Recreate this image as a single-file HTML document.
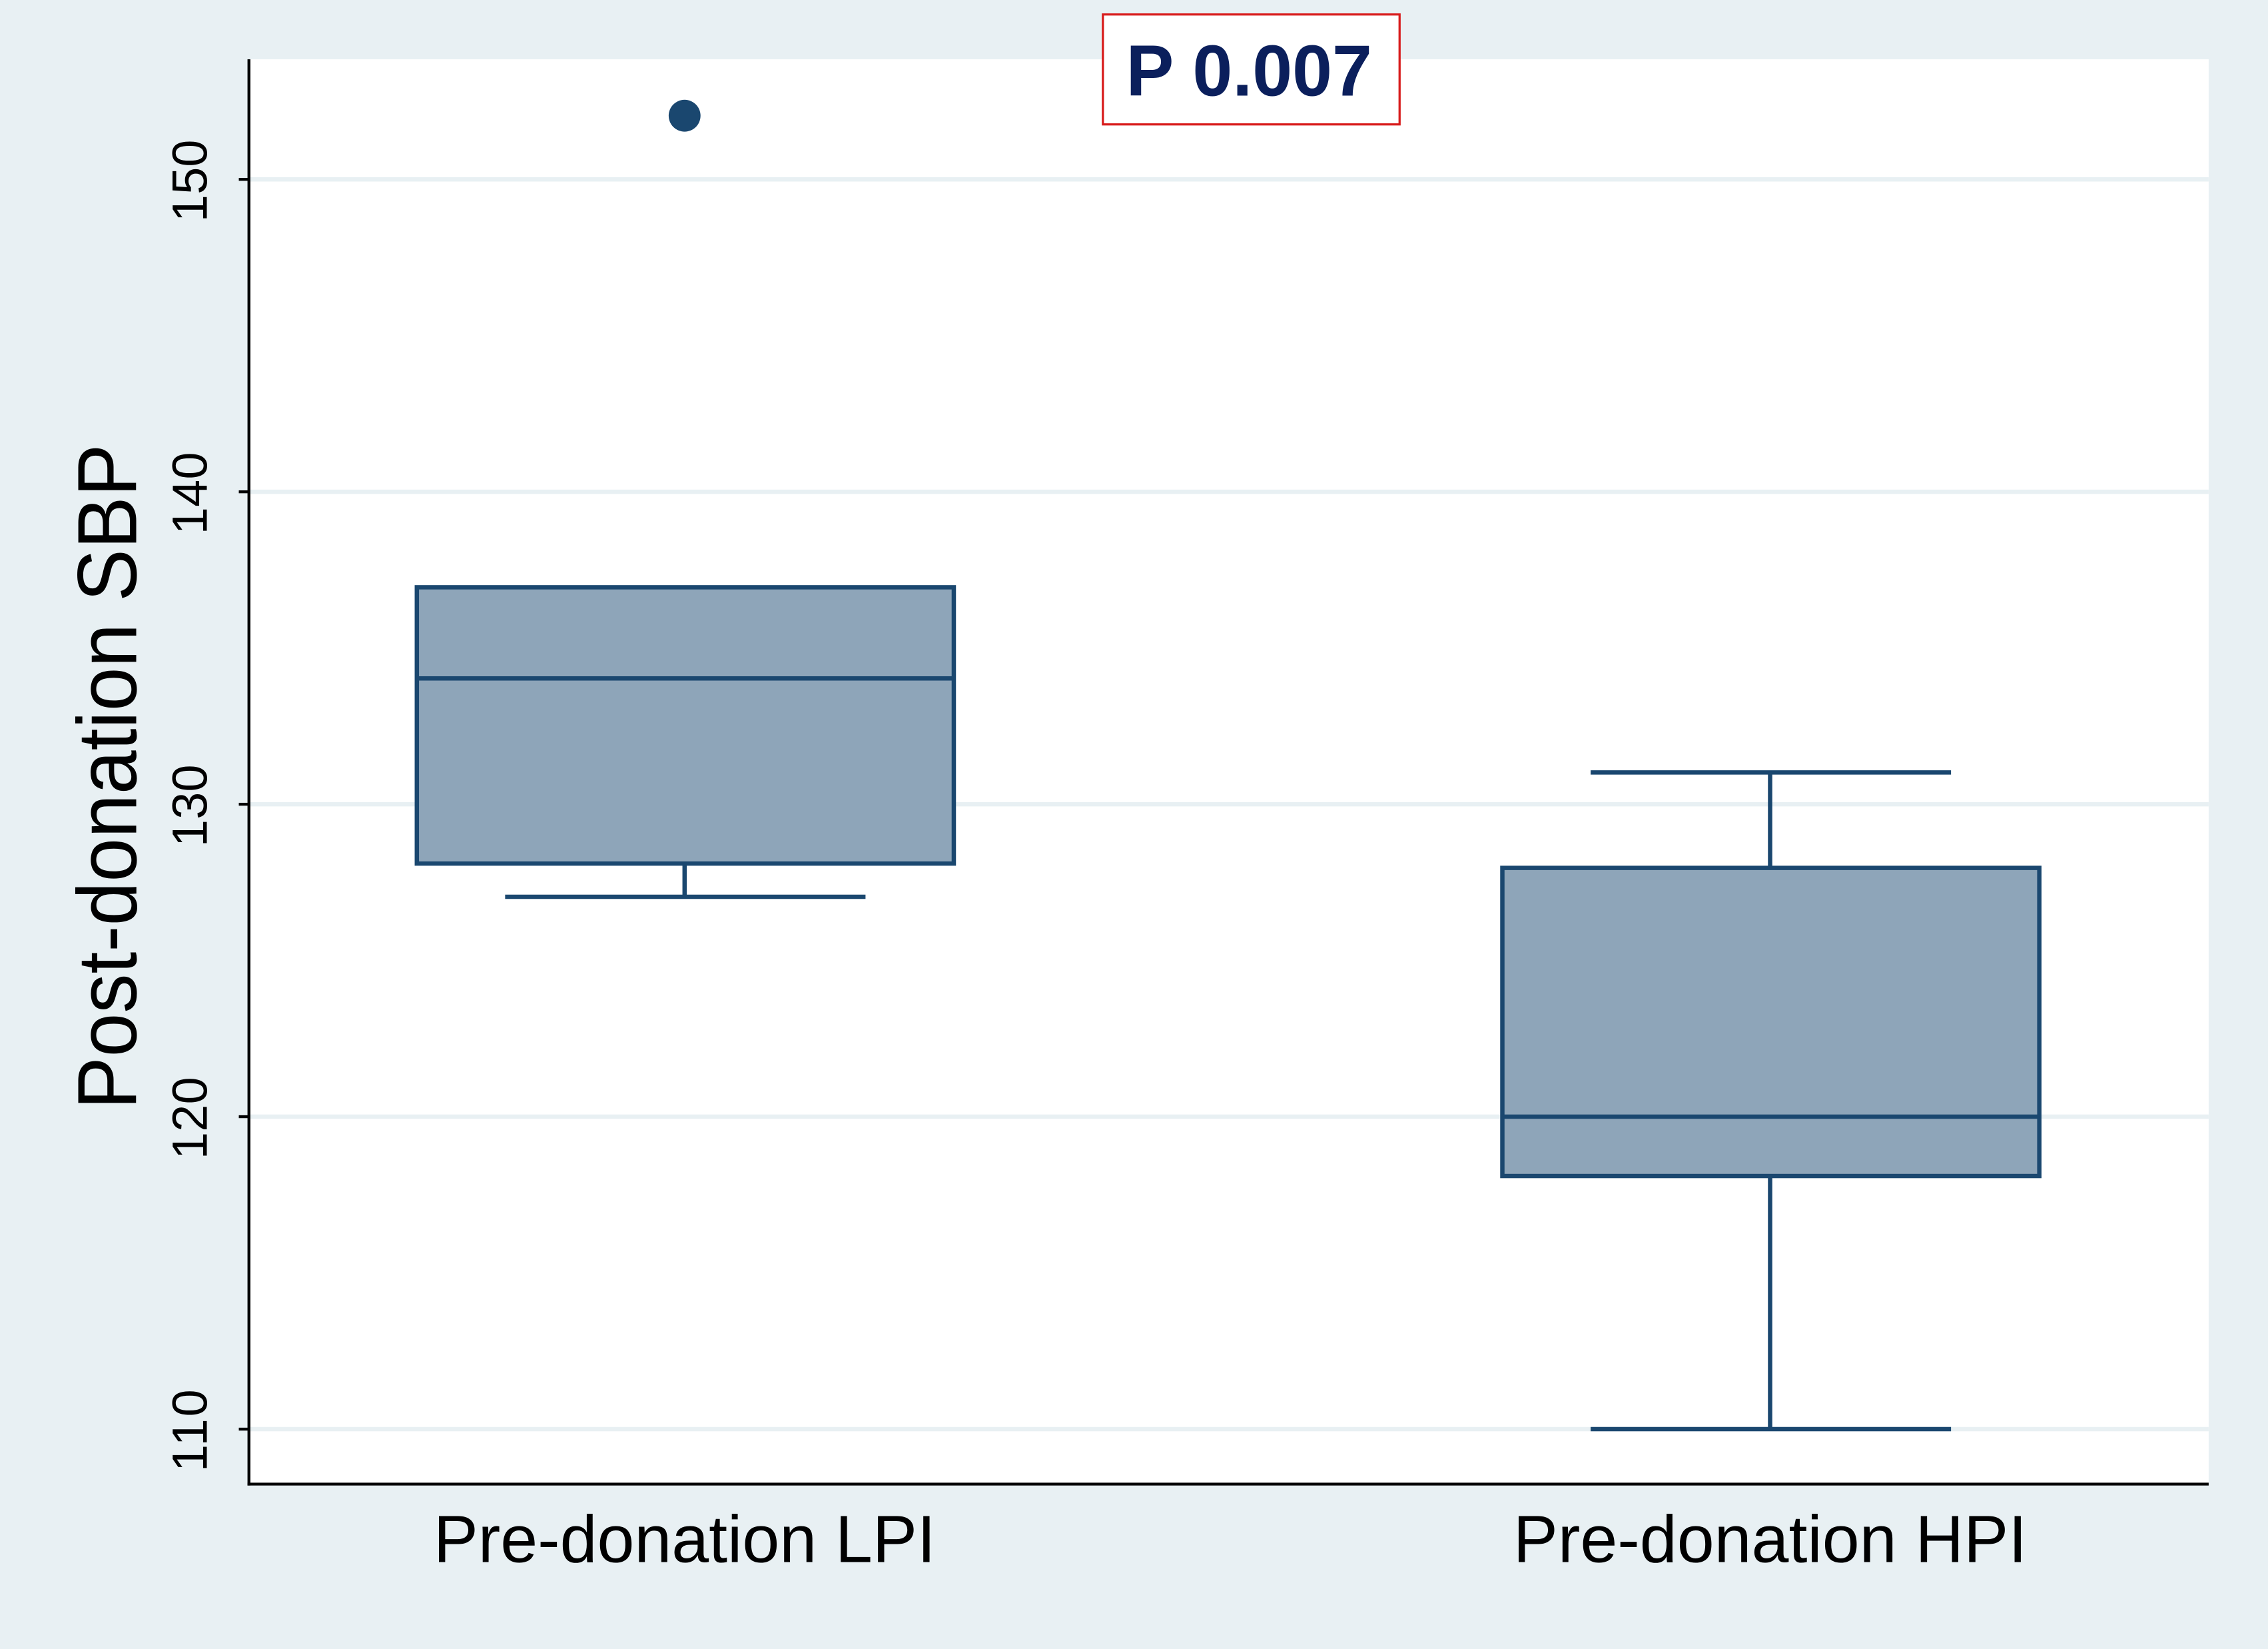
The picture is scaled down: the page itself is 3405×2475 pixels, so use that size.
<!DOCTYPE html>
<html><head><meta charset="utf-8"><style>
html,body{margin:0;padding:0;background:#e8f0f3;}
svg{display:block;}
</style></head><body>
<svg width="3405" height="2475" viewBox="0 0 1567 1140" preserveAspectRatio="none" xmlns="http://www.w3.org/2000/svg">
<rect x="0" y="0" width="1567" height="1140" fill="#e8f0f3"/>
<rect x="172" y="41" width="1354" height="985" fill="#ffffff"/>
<g stroke="#e8f0f3" stroke-width="3">
<line x1="172" y1="124" x2="1526" y2="124"/>
<line x1="172" y1="340" x2="1526" y2="340"/>
<line x1="172" y1="556" x2="1526" y2="556"/>
<line x1="172" y1="772" x2="1526" y2="772"/>
<line x1="172" y1="988" x2="1526" y2="988"/>
</g>
<g stroke="#000" stroke-width="2">
<line x1="172" y1="41" x2="172" y2="1027"/>
<line x1="171" y1="1026" x2="1526" y2="1026"/>
<line x1="165" y1="124" x2="172" y2="124"/>
<line x1="165" y1="340" x2="172" y2="340"/>
<line x1="165" y1="556" x2="172" y2="556"/>
<line x1="165" y1="772" x2="172" y2="772"/>
<line x1="165" y1="988" x2="172" y2="988"/>
</g>
<g font-family="Liberation Sans, sans-serif" font-size="34" fill="#000" text-anchor="middle">
<text transform="translate(143,125) rotate(-90)" textLength="57">150</text>
<text transform="translate(143,341) rotate(-90)" textLength="57">140</text>
<text transform="translate(143,557) rotate(-90)" textLength="57">130</text>
<text transform="translate(143,773) rotate(-90)" textLength="57">120</text>
<text transform="translate(143,989) rotate(-90)" textLength="57">110</text>
</g>
<text transform="translate(94,537) rotate(-90)" font-family="Liberation Sans, sans-serif" font-size="58" text-anchor="middle" textLength="460" lengthAdjust="spacingAndGlyphs" fill="#000">Post-donation SBP</text>
<g font-family="Liberation Sans, sans-serif" font-size="46" fill="#000" text-anchor="middle">
<text x="473" y="1080" textLength="347" lengthAdjust="spacingAndGlyphs">Pre-donation LPI</text>
<text x="1223" y="1080" textLength="355" lengthAdjust="spacingAndGlyphs">Pre-donation HPI</text>
</g>
<g stroke="#1a476f" stroke-width="3" fill="none">
<line x1="473" y1="597" x2="473" y2="620"/>
<line x1="349" y1="620" x2="598" y2="620"/>
<rect x="288" y="406" width="371" height="191" fill="#8ea5b9"/>
<line x1="288" y1="469" x2="659" y2="469"/>
<line x1="1223" y1="534" x2="1223" y2="600"/>
<line x1="1099" y1="534" x2="1348" y2="534"/>
<line x1="1223" y1="813" x2="1223" y2="988"/>
<line x1="1099" y1="988" x2="1348" y2="988"/>
<rect x="1038" y="600" width="371" height="213" fill="#8ea5b9"/>
<line x1="1038" y1="772" x2="1409" y2="772"/>
</g>
<circle cx="473" cy="80" r="11" fill="#1a476f"/>
<rect x="762" y="10" width="205" height="76" fill="#ffffff" stroke="#d81c1c" stroke-width="1.5"/>
<text x="863" y="66" font-family="Liberation Sans, sans-serif" font-weight="bold" font-size="50" fill="#0b1f5c" text-anchor="middle" textLength="170" lengthAdjust="spacingAndGlyphs">P 0.007</text>
</svg>
</body></html>
